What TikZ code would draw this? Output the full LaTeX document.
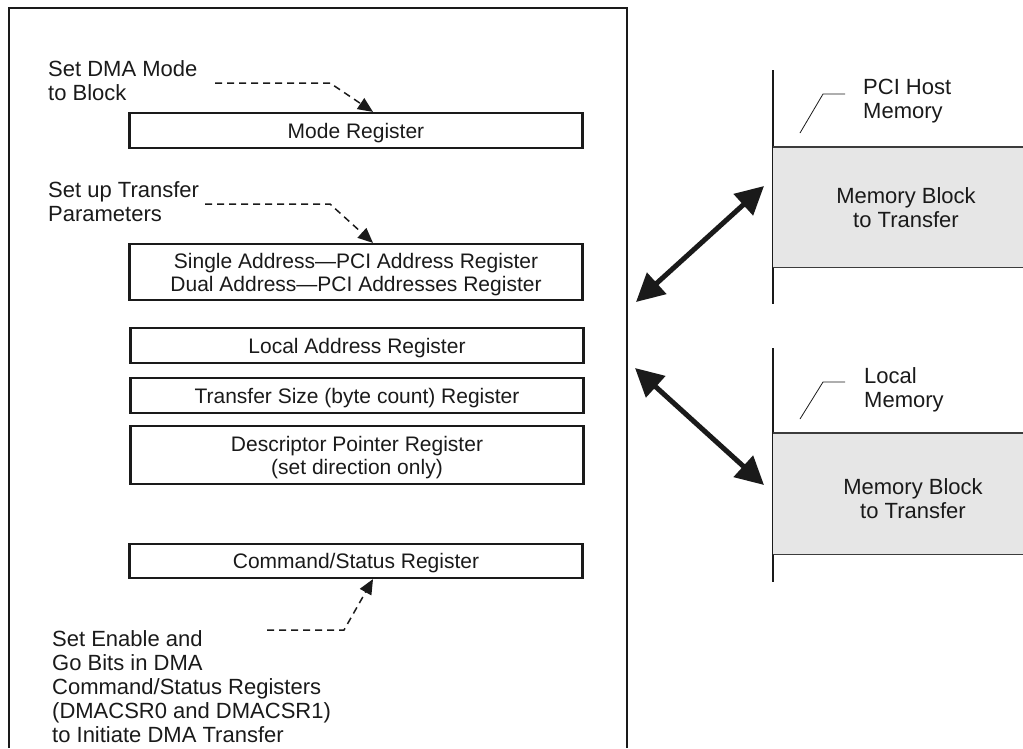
\documentclass[tikz,border=0pt]{standalone}
\usepackage{fontspec}
\setmainfont{Liberation Sans}
\usetikzlibrary{arrows.meta}
\definecolor{ink}{HTML}{1A1A1A}
\definecolor{blockgray}{HTML}{E6E6E6}
\begin{document}
\begin{tikzpicture}[x=1pt,y=-1pt,
  txt/.style={font=\fontsize{22}{24}\selectfont, inner sep=0pt, text=ink},
  reg/.style={draw=ink, line width=2.2pt, minimum width=453pt, inner sep=0pt,
    font=\fontsize{21}{23}\selectfont, text=ink, align=center, text depth=0pt},
  frame/.style={draw=ink, line width=2.5pt},
  dsh/.style={draw=ink, line width=1.5pt, dash pattern=on 7pt off 5pt,
    -{Triangle[length=15pt,width=13pt]}},
  dbl/.style={draw=ink, line width=5pt,
    {Triangle[length=28pt,width=28pt]}-{Triangle[length=28pt,width=28pt]}},
  memline/.style={draw=ink, line width=2pt},
  edge/.style={draw=ink!85, line width=1.3pt},
  leader/.style={draw=ink, line width=0.8pt},
  blk/.style={fill=blockgray, inner sep=0pt, minimum width=250pt, anchor=north west}
]
\useasboundingbox (0,0) rectangle (1023,748);

% frame
\draw[frame] (9,748) -- (9,8) -- (627,8) -- (627,748);

% registers
\node[reg, minimum height=35pt] (mode) at (356,130.5) {Mode Register};
\node[reg, minimum height=56pt] (addr) at (356,272) {Single Address—PCI Address Register\\Dual Address—PCI Addresses Register};
\node[reg, minimum height=35pt] (local) at (357,345.5) {Local Address Register};
\node[reg, minimum height=35pt] (size) at (357,395.5) {Transfer Size (byte count) Register};
\node[reg, minimum height=58pt] (desc) at (357,455) {Descriptor Pointer Register\\(set direction only)};
\node[reg, minimum height=34pt] (cmd) at (356,561) {Command/Status Register};

% labels
\node[txt, align=left, anchor=west] (lab1) at (48,81) {Set DMA Mode\\to Block};
\node[txt, align=left, anchor=west] (lab2) at (48,202) {Set up Transfer\\Parameters};
\node[txt, align=left, anchor=west] (lab3) at (52,687) {Set Enable and\\Go Bits in DMA\\Command/Status Registers\\(DMACSR0 and DMACSR1)\\to Initiate DMA Transfer};

% dashed arrows
\coordinate (tipx) at (373,0);
\coordinate (d1s) at (215,83);
\coordinate (d1k) at (330,83);
\draw[dsh] (d1s) -- (d1k) -- (mode.north -| tipx);
\coordinate (d2s) at (205,204);
\coordinate (d2k) at (330,204);
\draw[dsh] (d2s) -- (d2k) -- (addr.north -| tipx);
\coordinate (d3s) at (267,630);
\coordinate (d3k) at (344,630);
\draw[dsh] (d3s) -- (d3k) -- (cmd.south -| tipx);

% PCI host memory
\draw[memline] (773,70) -- (773,304);
\node[blk, minimum height=120pt] (hostblk) at (773,147) {};
\draw[edge] (hostblk.north west) -- (hostblk.north east);
\draw[edge] (hostblk.south west) -- (hostblk.south east);
\node[txt, align=center] (hostmb) at (906,208) {Memory Block\\to Transfer};
\node[txt, align=left, anchor=west] (hostlbl) at (863,101) {PCI Host\\Memory};
\coordinate (h1) at (800,133);
\coordinate (h2) at (823,94);
\coordinate (h3) at (845,94);
\draw[leader] (h1) -- (h2) -- (h3);

% local memory
\draw[memline] (773,348) -- (773,582);
\node[blk, minimum height=121pt] (locblk) at (773,433) {};
\draw[edge] (locblk.north west) -- (locblk.north east);
\draw[edge] (locblk.south west) -- (locblk.south east);
\node[txt, align=center] (locmb) at (913,499) {Memory Block\\to Transfer};
\node[txt, align=left, anchor=west] (loclbl) at (864,390) {Local\\Memory};
\coordinate (l1) at (800,419);
\coordinate (l2) at (823,382);
\coordinate (l3) at (845,382);
\draw[leader] (l1) -- (l2) -- (l3);

% transfer arrows
\coordinate (a1l) at (636,302);
\coordinate (a1r) at (764,186);
\draw[dbl] (a1l) -- (a1r);
\coordinate (a2l) at (635,368);
\coordinate (a2r) at (764,485);
\draw[dbl] (a2l) -- (a2r);
\end{tikzpicture}
\end{document}
